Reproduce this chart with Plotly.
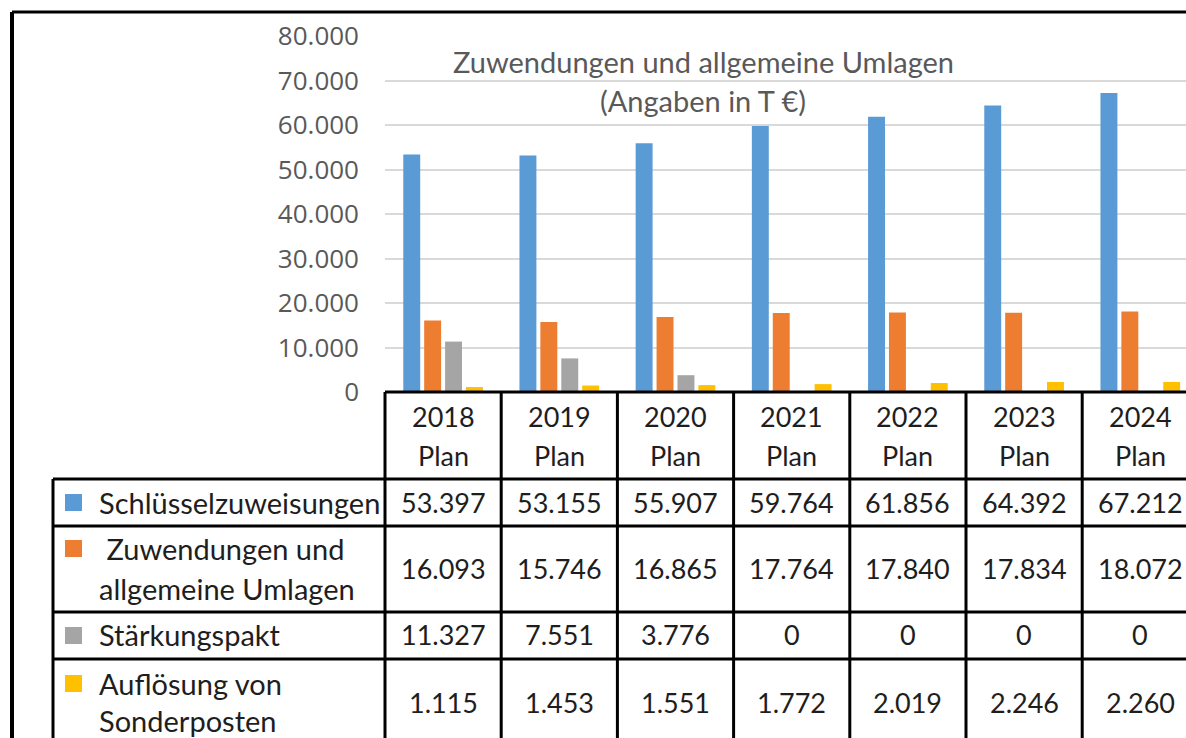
import plotly.graph_objects as go

# ---------------- Data ---------------- #
years = ["2018", "2019", "2020", "2021", "2022", "2023", "2024"]
schluessel = [53397, 53155, 55907, 59764, 61856, 64392, 67212]
zuwendungen = [16093, 15746, 16865, 17764, 17840, 17834, 18072]
staerkung = [11327, 7551, 3776, 0, 0, 0, 0]
aufloesung = [1115, 1453, 1551, 1772, 2019, 2246, 2260]

series_names = [["Schlüsselzuweisungen"],
                ["\u00a0Zuwendungen und", "allgemeine Umlagen"],
                ["Stärkungspakt"],
                ["Auflösung von", "Sonderposten"]]
series_vals = [schluessel, zuwendungen, staerkung, aufloesung]
colors = ["#5B9BD5", "#ED7D31", "#A5A5A5", "#FFC000"]
yticks = [0, 10000, 20000, 30000, 40000, 50000, 60000, 70000, 80000]


def fmt(v):
    return f"{v:,}".replace(",", ".")


# ---------------- Layout helpers (page pixel -> paper) ---------------- #
W, H = 1186, 738
L, T, B = 385, 36, 392          # plot area left / top / zero line
PW, PH = W - L, B - T
CW = 116.2                      # width of one category column in px
X1 = -0.5 + PW / CW


def xp(px):
    return (px - L) / PW


def yp(py):
    return (B - py) / PH


FONT = "Lato"
TXT = "#1e1e1e"
LBL = 29
NUM = 27

fig = go.Figure()
for name, vals, col in zip(series_names, series_vals, colors):
    fig.add_trace(go.Bar(x=list(range(len(years))), y=vals, name=" ".join(name),
                         marker_color=col, marker_line_width=0))

shapes = []
ann = []
line = dict(color="black", width=3)

# outer frame (cut by the image edge on the right / bottom)
shapes.append(dict(type="line", xref="paper", yref="paper", x0=xp(12), x1=xp(W + 5),
                   y0=yp(12), y1=yp(12), line=dict(color="black", width=3)))
shapes.append(dict(type="line", xref="paper", yref="paper", x0=xp(12), x1=xp(12),
                   y0=yp(12), y1=yp(H + 5), line=dict(color="black", width=4)))

# table grid
row_lines = [479, 526, 612, 659]
shapes.append(dict(type="line", xref="paper", yref="paper", x0=xp(L), x1=xp(W + 5),
                   y0=yp(B), y1=yp(B), line=line))
for ry in row_lines:
    shapes.append(dict(type="line", xref="paper", yref="paper", x0=xp(53), x1=xp(W + 5),
                       y0=yp(ry), y1=yp(ry), line=line))
shapes.append(dict(type="line", xref="paper", yref="paper", x0=xp(53), x1=xp(53),
                   y0=yp(row_lines[0]), y1=yp(H + 5), line=line))
for i in range(len(years)):
    cx = L + i * CW
    shapes.append(dict(type="line", xref="paper", yref="paper", x0=xp(cx), x1=xp(cx),
                       y0=yp(B), y1=yp(H + 5), line=line))

# header cells
for i, yr in enumerate(years):
    for txt, cy in ((yr, 416), ("Plan", 455)):
        ann.append(dict(x=i, y=yp(cy), xref="x", yref="paper", text=txt, showarrow=False,
                        xanchor="center", yanchor="middle",
                        font=dict(family=FONT, size=NUM, color=TXT)))

# data rows: (label line centres, value centre)
rows = [([502], 502), ([548, 588], 568), ([635], 635), ([683, 720], 702)]
for (lines, vy), name, vals, col in zip(rows, series_names, series_vals, colors):
    for txt, ly in zip(name, lines):
        ann.append(dict(x=xp(97), y=yp(ly), xref="paper", yref="paper", text=txt,
                        showarrow=False, xanchor="left", yanchor="middle",
                        font=dict(family=FONT, size=LBL, color=TXT)))
    sy = lines[0]
    shapes.append(dict(type="rect", xref="paper", yref="paper", x0=xp(65), x1=xp(82),
                       y0=yp(sy - 8), y1=yp(sy + 9), fillcolor=col, line_width=0))
    for i, v in enumerate(vals):
        ann.append(dict(x=i, y=yp(vy), xref="x", yref="paper", text=fmt(v), showarrow=False,
                        xanchor="center", yanchor="middle",
                        font=dict(family=FONT, size=NUM, color=TXT)))

# chart title
ann.append(dict(x=xp(703), y=yp(62), xref="paper", yref="paper",
                text="Zuwendungen und allgemeine Umlagen", showarrow=False,
                xanchor="center", yanchor="middle",
                font=dict(family=FONT, size=29, color="#595959")))
ann.append(dict(x=xp(703), y=yp(100), xref="paper", yref="paper",
                text="(Angaben in T €)", showarrow=False,
                xanchor="center", yanchor="middle",
                font=dict(family=FONT, size=29, color="#595959")))

fig.update_layout(
    width=W, height=H,
    margin=dict(l=L, r=0, t=T, b=H - B, pad=0),
    paper_bgcolor="white", plot_bgcolor="white",
    barmode="group", bargap=0.28, bargroupgap=0.19,
    showlegend=False,
    shapes=shapes, annotations=ann,
    xaxis=dict(range=[-0.5, X1], showticklabels=False, showgrid=False,
               zeroline=False, ticks=""),
    yaxis=dict(range=[0, 80000], tickvals=yticks, ticktext=[fmt(v) for v in yticks],
               showgrid=True, gridcolor="#D9D9D9", gridwidth=2, zeroline=False,
               ticks="", ticklabelstandoff=25,
               tickfont=dict(family="Open Sans", size=26, color="#595959")),
)

# drop the default body margin so the figure fills the window exactly
fig.write_html("out.html", config={"displayModeBar": False},
               post_script="document.body.style.margin='0';"
                           "document.body.style.overflow='hidden';")
